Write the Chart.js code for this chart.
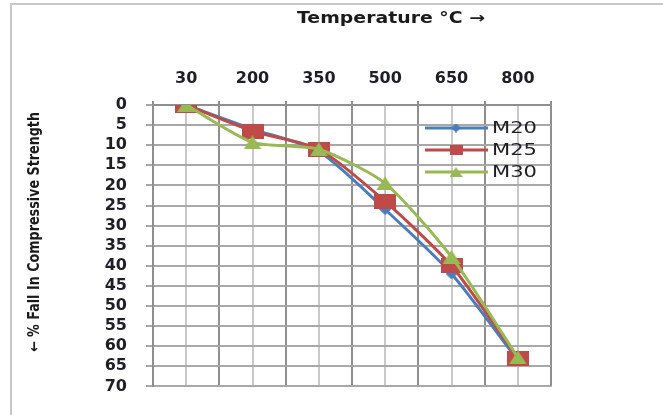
<!DOCTYPE html>
<html>
<head>
<meta charset="utf-8">
<script src="https://cdn.jsdelivr.net/npm/chart.js@4.4.0/dist/chart.umd.min.js"></script>
<style>
  body { margin: 0; background: #fff; }
  canvas { display: block; }
</style>
</head>
<body>
<canvas id="line-chart" width="663" height="415"></canvas>
<script>
const temps = ["30", "200", "350", "500", "650", "800"];
const m20 = [0, 6, 11.5, 26, 42, 63.5];
const m25 = [0, 6.5, 11, 24, 40, 63];
const m30 = [0, 9.3, 11, 19.5, 37.8, 62.8];
const yTicks = [0, 5, 10, 15, 20, 25, 30, 35, 40, 45, 50, 55, 60, 65, 70];

const xTitle = "Temperature °C →";
const yTitle = "← % Fall In Compressive Strength";

// marker shapes, drawn once on small canvases
function marker(shape, w, h, color) {
  const c = document.createElement("canvas");
  c.width = w;
  c.height = h;
  const g = c.getContext("2d");
  g.fillStyle = color;
  g.beginPath();
  if (shape === "rect") {
    g.rect(0, 0, w, h);
  } else if (shape === "tri") {
    g.moveTo(w / 2, 0);
    g.lineTo(w, h);
    g.lineTo(0, h);
  } else {
    g.moveTo(w / 2, 0);
    g.lineTo(w, h / 2);
    g.lineTo(w / 2, h);
    g.lineTo(0, h / 2);
  }
  g.closePath();
  g.fill();
  return c;
}

const blue = "#4A7EBB";
const red = "#BE4B48";
const green = "#98B954";

const legendMarks = [
  marker("diamond", 10, 9, blue),
  marker("rect", 13, 10, red),
  marker("tri", 13, 10, green),
];

function fitText(ctx, text, x, y, width) {
  const w = ctx.measureText(text).width;
  ctx.save();
  ctx.translate(x, y);
  ctx.scale(width / w, 1);
  ctx.fillText(text, 0, 0);
  ctx.restore();
}

const decor = {
  id: "decor",
  beforeDraw(chart) {
    const ctx = chart.ctx;
    ctx.save();
    ctx.strokeStyle = "#c8c8c8";
    ctx.lineWidth = 2;
    ctx.beginPath();
    ctx.moveTo(11, 415);
    ctx.lineTo(11, 4);
    ctx.lineTo(663, 4);
    ctx.stroke();
    ctx.restore();
  },
  afterDraw(chart) {
    const ctx = chart.ctx;
    ctx.save();
    ctx.fillStyle = "#1a1a1a";
    ctx.textBaseline = "middle";
    ctx.textAlign = "left";

    ctx.font = "bold 15px 'DejaVu Sans'";
    fitText(ctx, xTitle, 297, 19, 188);

    ctx.save();
    ctx.translate(35, 352);
    ctx.rotate(-Math.PI / 2);
    ctx.font = "bold 15px 'Liberation Sans Narrow', 'DejaVu Sans Condensed', 'Liberation Sans'";
    fitText(ctx, yTitle, 0, 0, 240);
    ctx.restore();

    // legend
    chart.data.datasets.forEach(function (ds, i) {
      const y = 128 + i * 22;
      ctx.strokeStyle = ds.borderColor;
      ctx.lineWidth = 3;
      ctx.beginPath();
      ctx.moveTo(425, y);
      ctx.lineTo(488, y);
      ctx.stroke();
      const m = legendMarks[i];
      ctx.drawImage(m, 456 - m.width / 2, y - m.height / 2);
      ctx.fillStyle = "#1e1e28";
      ctx.font = "15px 'DejaVu Sans'";
      fitText(ctx, ds.label, 492, y + 1, 45);
    });
    ctx.restore();
  },
};

const tickFont = { family: "'DejaVu Sans'", size: 16, weight: "bold" };

new Chart(document.getElementById("line-chart"), {
  type: "line",
  data: {
    labels: temps,
    datasets: [
      {
        label: "M20",
        data: m20,
        borderColor: blue,
        borderWidth: 3,
        pointStyle: marker("diamond", 12, 11, blue),
        order: 2,
      },
      {
        label: "M25",
        data: m25,
        borderColor: red,
        borderWidth: 3,
        pointStyle: marker("rect", 22, 15, red),
        order: 1,
      },
      {
        label: "M30",
        data: m30,
        borderColor: green,
        borderWidth: 3,
        pointStyle: marker("tri", 18, 14, green),
        order: 0,
      },
    ],
  },
  options: {
    responsive: false,
    animation: false,
    events: [],
    devicePixelRatio: 1,
    elements: { line: { tension: 0.22, fill: false } },
    layout: { padding: { top: 0, left: 0, right: 112, bottom: 23 } },
    plugins: {
      legend: { display: false },
      tooltip: { enabled: false },
    },
    scales: {
      x: {
        type: "category",
        position: "top",
        offset: true,
        grid: { offset: true, color: "#8f8f8f", lineWidth: 2, tickLength: 4 },
        border: { color: "#8f8f8f", width: 2 },
        ticks: { font: tickFont, color: "#1e1e28", padding: 13, maxRotation: 0 },
        afterFit: function (s) {
          s.height = 105;
        },
      },
      x2: {
        type: "category",
        position: "top",
        offset: true,
        grid: { offset: false, color: "#c9c9c9", lineWidth: 2, drawTicks: false },
        border: { display: false },
        ticks: { display: false },
        afterFit: function (s) {
          s.height = 0;
        },
      },
      y: {
        reverse: true,
        min: 0,
        max: 70,
        afterBuildTicks: function (s) {
          s.ticks = yTicks.map(function (v) {
            return { value: v };
          });
        },
        grid: { color: "#a8a8a8", lineWidth: 2, tickLength: 7 },
        border: { color: "#8f8f8f", width: 2 },
        ticks: { font: tickFont, color: "#1e1e28", padding: 19, autoSkip: false },
        afterFit: function (s) {
          s.width = 153;
        },
      },
    },
  },
  plugins: [decor],
});
</script>
</body>
</html>
